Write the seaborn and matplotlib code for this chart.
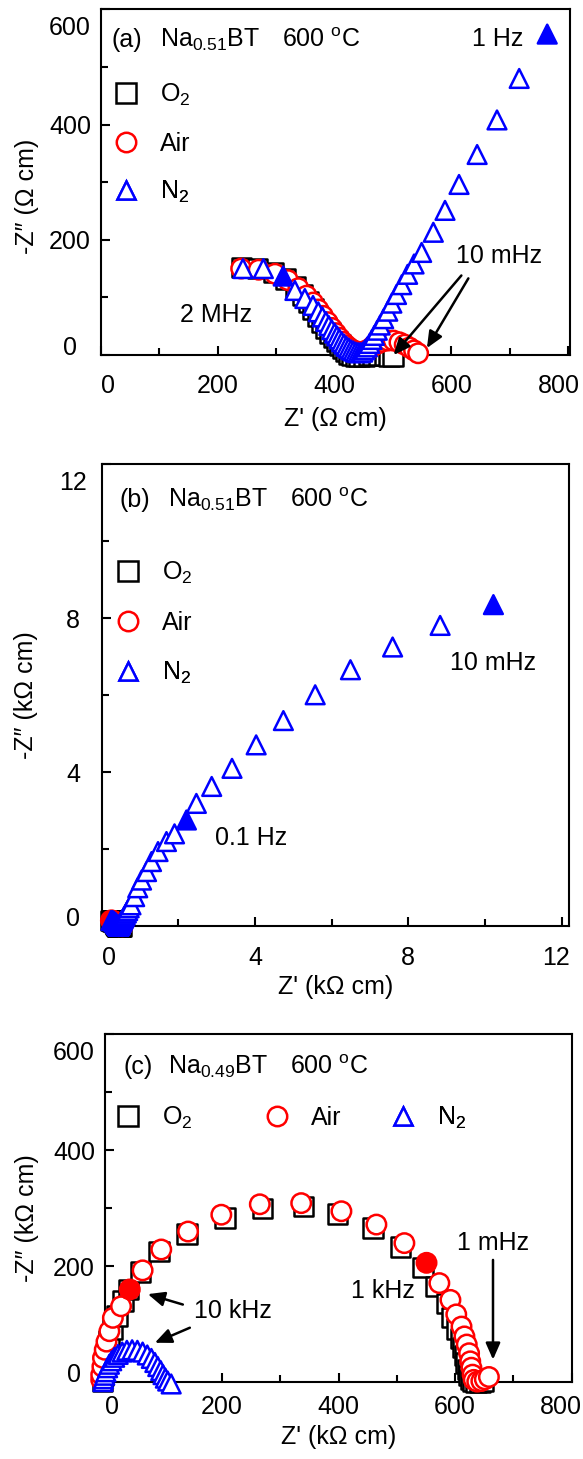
import matplotlib
matplotlib.use("Agg")
import matplotlib.pyplot as plt
from matplotlib.lines import Line2D
from matplotlib.transforms import ScaledTranslation
import pandas as pd
import seaborn as sns

# ---------------- (a) Na0.51BT, 600 C  (ohm cm) ----------------
a_o2_x = [241, 268, 295, 316, 333, 345, 355, 363, 371, 378, 385, 392, 398, 404, 409,
          414, 419, 424, 430, 436, 442, 450, 458, 466, 475, 485, 493, 500]
a_o2_y = [152, 150, 143, 132, 118, 104, 92, 80, 68, 57, 47, 38, 30, 23, 17,
          11, 6, 2, -1, -3, -3, -2, -1, 0, 0, -1, -2, -3]

a_air_x = [240, 270, 298, 320, 338, 352, 363, 372, 380, 388, 395, 402, 408, 414, 420, 426,
           432, 438, 444, 450, 457, 464, 472, 481, 491, 501, 511, 520, 528, 536, 543]
a_air_y = [150, 148, 141, 130, 116, 103, 91, 79, 68, 57, 47, 38, 30, 23, 17, 12,
           8, 6, 5, 6, 9, 14, 19, 23, 25, 25, 22, 18, 13, 8, 3]

a_n2_x = [243, 278, 312, 332, 349, 363, 372, 379, 385, 390, 395, 400, 404, 408, 412, 416,
          420, 424, 428, 432, 436, 440, 444, 448, 452, 456, 460, 464, 468, 473, 478, 484,
          491, 498, 506, 515, 525, 536, 549, 569, 589, 613, 644, 678, 716, 764]
a_n2_y = [150, 150, 137, 112, 98, 86, 75, 66, 58, 51, 44, 38, 33, 28, 23, 19,
          15, 12, 9, 7, 5, 4, 4, 5, 9, 14, 20, 27, 34, 43, 52, 63,
          76, 90, 105, 122, 140, 158, 178, 213, 251, 296, 348, 408, 480, 557]
a_n2_solid = [2, 45]          # 1 MHz and 1 Hz points

# ---------------- (b) same sample, N2 down to 10 mHz (kohm cm) ----------------
b_n2_tail_x = [0.86, 0.94, 1.04, 1.17, 1.30, 1.47, 1.69, 1.90, 2.21, 2.47,
               2.87, 3.40, 4.03, 4.74, 5.57, 6.49, 7.59, 8.83, 10.22]
b_n2_tail_y = [0.77, 1.00, 1.20, 1.42, 1.68, 1.94, 2.20, 2.40, 2.76, 3.19,
               3.63, 4.10, 4.71, 5.34, 6.01, 6.66, 7.25, 7.81, 8.35]
b_n2_tail_solid = [8, 18]     # 0.1 Hz and 10 mHz points

# ---------------- (c) Na0.49BT, 600 C  (kohm cm) ----------------
c_o2_x = [-5, -4, -3, -1, 2, 6, 12, 20, 30, 40, 60, 92, 140, 205, 270, 340, 398, 459,
          506, 545, 566, 585, 595, 603, 609, 613, 617, 619, 621, 623, 626, 630, 636, 643, 649]
c_o2_y = [2, 12, 25, 40, 55, 72, 92, 114, 140, 160, 190, 226, 256, 283, 300, 303, 290, 266,
          233, 198, 165, 136, 112, 92, 75, 60, 46, 33, 22, 12, 5, 1, 0, 0, 1]

c_air_x = [-7, -7, -5, -4, -1, 2, 7, 13, 27, 42, 64, 96, 142, 199, 265, 336, 405, 465,
           513, 551, 573, 592, 602, 611, 616, 620, 624, 626, 628, 630, 632, 638, 645, 651, 658]
c_air_y = [4, 13, 27, 42, 56, 70, 88, 111, 131, 160, 193, 229, 260, 289, 307, 309, 295, 272,
           240, 206, 171, 142, 117, 96, 79, 65, 50, 36, 25, 13, 4, 1, 2, 5, 9]
c_air_solid = [9, 19]         # 10 kHz and 1 kHz points

c_n2_x = [-4, -3, -1, 1, 4, 7, 11, 16, 22, 29, 37, 46, 55, 64, 72, 79, 85, 90, 95, 99, 103, 107, 113]
c_n2_y = [1, 6, 12, 18, 25, 31, 37, 43, 48, 52, 55, 56, 55, 52, 47, 41, 34, 27, 20, 13, 7, 2, -3]

gas_labels = ["O$_2$", "Air", "N$_2$"]

# ---------------- style ----------------
sns.set_theme(style="ticks")
plt.rcParams["font.family"] = ["Liberation Sans", "DejaVu Sans"]
plt.rcParams["mathtext.fontset"] = "custom"
plt.rcParams["mathtext.rm"] = "Liberation Sans"
plt.rcParams["mathtext.it"] = "Liberation Sans:italic"
plt.rcParams["mathtext.default"] = "regular"
plt.rcParams["text.color"] = "black"
plt.rcParams["axes.labelcolor"] = "black"
plt.rcParams["xtick.color"] = "black"
plt.rcParams["ytick.color"] = "black"
plt.rcParams["axes.edgecolor"] = "black"

FS = 18
LW = 1.8
BLUE, RED, BLACK = "#0000ff", "#ff0000", "#000000"
SZ = {"s": 14.0, "o": 14.0, "^": 13.5}

fig = plt.figure(figsize=(5.83, 14.59), dpi=100)
ax_a = fig.add_axes([0.17324, 0.75668, 0.80446, 0.23694])
ax_b = fig.add_axes([0.17444, 0.36511, 0.80206, 0.31686])
ax_c = fig.add_axes([0.18062, 0.05264, 0.80000, 0.23832])


def shift(label, dx_px, dy_px):
    label.set_transform(label.get_transform()
                        + ScaledTranslation(dx_px / 100, dy_px / 100, fig.dpi_scale_trans))


def draw_series(ax, xs, ys, marker, color, solid=()):
    fill = ["solid" if i in solid else "open" for i in range(len(xs))]
    df = pd.DataFrame({"x": xs, "y": ys, "fill": fill})
    pal = {"open": "white"}
    if solid:
        pal["solid"] = color
    sns.scatterplot(data=df, x="x", y="y", hue="fill", palette=pal, hue_order=list(pal),
                    marker=marker, s=SZ[marker] ** 2, edgecolor=color, linewidth=LW,
                    legend=False, ax=ax, clip_on=False, zorder=3)


def add_key(ax, marker, color, label, mx_px, my_px, left_px, bottom_px, w_px, h_px):
    handle = Line2D([], [], linestyle="none", marker=marker, markersize=SZ[marker],
                    markerfacecolor="white", markeredgecolor=color, markeredgewidth=LW)
    x = (mx_px - 0.5 * FS * 100 / 72 - left_px) / w_px
    y = (bottom_px - my_px) / h_px
    leg = ax.legend([handle], [label], loc="center left", bbox_to_anchor=(x, y),
                    bbox_transform=ax.transAxes, frameon=False, borderpad=0,
                    borderaxespad=0, handlelength=1.0, handletextpad=0.85, fontsize=FS)
    ax.add_artist(leg)


def style_axes(ax, xlim, ylim, xmaj, xmin, ymaj, ymin, xpad, ypad, xlast_dx):
    ax.set_xlim(*xlim)
    ax.set_ylim(*ylim)
    ax.set_xticks(xmaj)
    ax.set_xticks(xmin, minor=True)
    ax.set_yticks(ymaj)
    ax.set_yticks(ymin, minor=True)
    ax.set_xticklabels([f"{v:g}" for v in xmaj])
    ax.set_yticklabels([f"{v:g}" for v in ymaj])
    for s in ax.spines.values():
        s.set_linewidth(1.5)
        s.set_color("black")
        s.set_visible(True)
    ax.tick_params(which="both", direction="in", top=False, right=False, width=1.5,
                   color="black", labelsize=FS, labelcolor="black")
    ax.tick_params(which="major", length=6.5)
    ax.tick_params(which="minor", length=4.7)
    ax.tick_params(axis="x", which="major", pad=xpad)
    ax.tick_params(axis="y", which="major", pad=ypad)
    ylabs = ax.get_yticklabels()
    for lab in ylabs:
        lab.set_horizontalalignment("center")
    ylabs[0].set_verticalalignment("baseline")
    shift(ylabs[-1], 0, -16)
    xlabs = ax.get_xticklabels()
    xlabs[0].set_horizontalalignment("left")
    shift(xlabs[-1], xlast_dx, 0)
    ax.set_facecolor("white")


ARROW = dict(arrowstyle="-|>,head_length=0.5,head_width=0.22", color="black", lw=1.8,
             shrinkA=0, shrinkB=0, mutation_scale=20)


def arrow(ax, tail, tip):
    ax.annotate("", xy=tip, xytext=tail, arrowprops=ARROW, zorder=5)


# ---------------- panel (a) ----------------
draw_series(ax_a, a_o2_x, a_o2_y, "s", BLACK)
draw_series(ax_a, a_air_x, a_air_y, "o", RED)
draw_series(ax_a, a_n2_x, a_n2_y, "^", BLUE, a_n2_solid)
style_axes(ax_a, (0, 803), (0, 600), [0, 200, 400, 600, 800], [100, 300, 500, 700],
           [0, 200, 400, 600], [100, 300, 500], 14, 22.3, -9)
ax_a.set_xlabel("Z' (Ω cm)", fontsize=FS)
ax_a.set_ylabel("-Z\u2033 (Ω cm)", fontsize=FS)
ax_a.xaxis.set_label_coords(0.5, -0.150)
ax_a.yaxis.set_label_coords(-0.132, 0.46)
for txt, xp in [("(a)", 112), ("Na$_{0.51}$BT", 160), ("600 $^{\\rm o}$C", 282)]:
    ax_a.text((xp - 101) / 469, (355 - 40) / 345.7, txt, transform=ax_a.transAxes,
              ha="left", va="center", fontsize=FS)
for (mk, col, lab), ypx in zip([("s", BLACK, gas_labels[0]), ("o", RED, gas_labels[1]),
                                ("^", BLUE, gas_labels[2])], [95, 144, 192]):
    add_key(ax_a, mk, col, lab, 126, ypx, 101, 355, 469, 345.7)
ax_a.text(679, 549, "1 Hz", ha="center", va="center", fontsize=FS)
ax_a.text(682, 171, "10 mHz", ha="center", va="center", fontsize=FS)
ax_a.text(197, 69, "2 MHz", ha="center", va="center", fontsize=FS)
arrow(ax_a, (617, 138), (501, 0))
arrow(ax_a, (629, 133), (558, 12))

# ---------------- panel (b) ----------------
b_o2_x = [v / 1000 for v in a_o2_x]
b_o2_y = [v / 1000 for v in a_o2_y]
b_air_x = [v / 1000 for v in a_air_x]
b_air_y = [v / 1000 for v in a_air_y]
b_n2_x = [v / 1000 for v in a_n2_x] + b_n2_tail_x
b_n2_y = [v / 1000 for v in a_n2_y] + b_n2_tail_y
b_n2_solid = [len(a_n2_x) + i for i in b_n2_tail_solid]
draw_series(ax_b, b_o2_x, b_o2_y, "s", BLACK)
draw_series(ax_b, b_air_x, b_air_y, "o", RED)
draw_series(ax_b, b_n2_x, b_n2_y, "^", BLUE, b_n2_solid)
style_axes(ax_b, (0, 12.2), (0, 12), [0, 4, 8, 12], [2, 6, 10],
           [0, 4, 8, 12], [2, 6, 10], 14, 20.7, -6)
ax_b.set_xlabel("Z' (kΩ cm)", fontsize=FS)
ax_b.set_ylabel("-Z\u2033 (kΩ cm)", fontsize=FS)
ax_b.xaxis.set_label_coords(0.5, -0.105)
ax_b.yaxis.set_label_coords(-0.136, 0.5)
for txt, xp in [("(b)", 120), ("Na$_{0.51}$BT", 168), ("600 $^{\\rm o}$C", 290)]:
    ax_b.text((xp - 101.7) / 467.6, (926.3 - 500) / 462.3, txt, transform=ax_b.transAxes,
              ha="left", va="center", fontsize=FS)
for (mk, col, lab), ypx in zip([("s", BLACK, gas_labels[0]), ("o", RED, gas_labels[1]),
                                ("^", BLUE, gas_labels[2])], [573, 623, 673]):
    add_key(ax_b, mk, col, lab, 128, ypx, 101.7, 926.3, 467.6, 462.3)
ax_b.text(3.9, 2.29, "0.1 Hz", ha="center", va="center", fontsize=FS)
ax_b.text(10.2, 6.83, "10 mHz", ha="center", va="center", fontsize=FS)

# ---------------- panel (c) ----------------
draw_series(ax_c, c_o2_x, c_o2_y, "s", BLACK)
draw_series(ax_c, c_air_x, c_air_y, "o", RED, c_air_solid)
draw_series(ax_c, c_n2_x, c_n2_y, "^", BLUE)
style_axes(ax_c, (0, 800), (0, 600), [0, 200, 400, 600, 800], [100, 300, 500, 700],
           [0, 200, 400, 600], [100, 300, 500], 9.5, 22.5, -11)
ax_c.set_xlabel("Z' (kΩ cm)", fontsize=FS)
ax_c.set_ylabel("-Z\u2033 (kΩ cm)", fontsize=FS)
ax_c.xaxis.set_label_coords(0.5, -0.123)
ax_c.yaxis.set_label_coords(-0.142, 0.472)
for txt, xp in [("(c)", 123), ("Na$_{0.49}$BT", 168), ("600 $^{\\rm o}$C", 290)]:
    ax_c.text((xp - 105.3) / 466.4, (1382.2 - 1066.7) / 347.7, txt, transform=ax_c.transAxes,
              ha="left", va="center", fontsize=FS)
for (mk, col, lab), xpx in zip([("s", BLACK, gas_labels[0]), ("o", RED, gas_labels[1]),
                                ("^", BLUE, gas_labels[2])], [128, 277, 403]):
    add_key(ax_c, mk, col, lab, xpx, 1118, 105.3, 1382.2, 466.4, 347.7)
ax_c.text(219, 122, "10 kHz", ha="center", va="center", fontsize=FS)
ax_c.text(476, 157, "1 kHz", ha="center", va="center", fontsize=FS)
ax_c.text(665, 240, "1 mHz", ha="center", va="center", fontsize=FS)
arrow(ax_c, (133, 134), (73, 152))
arrow(ax_c, (145, 94), (85, 68))
arrow(ax_c, (665, 211), (665, 39))

fig.savefig("out.png", dpi=100, facecolor="white")
